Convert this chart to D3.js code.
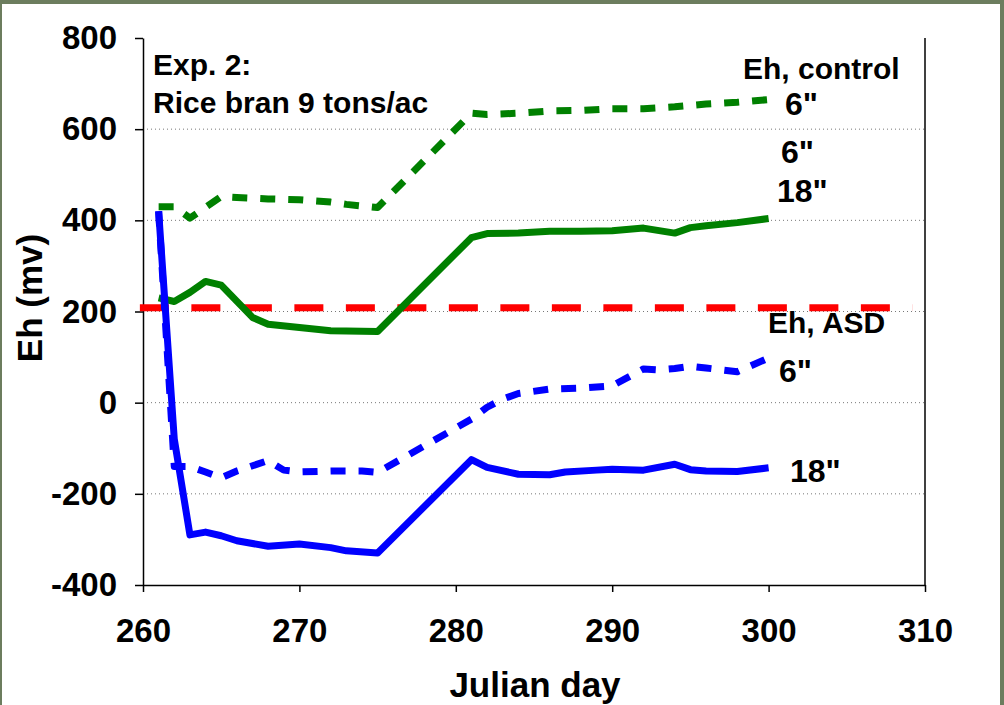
<!DOCTYPE html>
<html>
<head>
<meta charset="utf-8">
<script src="https://cdn.jsdelivr.net/npm/d3@7"></script>
<style>
  body { margin: 0; background: #fff; }
  text { font-family: "Liberation Sans", Arial, sans-serif; font-weight: bold; fill: #000; }
</style>
</head>
<body>
<div id="drawing"></div>
<script>
// Eh readings, Exp. 2 (rice bran 9 tons/ac)

// control, 6" depth (dotted green)
const ctl6Days = [261, 262, 263, 265, 266, 268, 270, 272, 273, 275, 281, 282, 284, 286, 288, 290, 292, 294, 296, 298, 300];
const ctl6Eh   = [430, 430, 405, 452, 450, 447, 445, 440, 435, 428, 635, 632, 635, 640, 641, 645, 645, 649, 655, 659, 665];

// control, 18" depth (solid green)
const ctl18Days = [261, 262, 263, 264, 265, 267, 268, 270, 272, 275, 281, 282, 284, 286, 288, 290, 292, 294, 295, 296, 298, 300];
const ctl18Eh   = [230, 222, 242, 266, 258, 187, 172, 165, 158, 156, 362, 371, 372, 376, 376, 377, 383, 372, 384, 388, 395, 404];

// ASD, 6" depth (dotted blue)
const asd6Days = [261, 262, 263, 264, 265, 266, 268, 269, 270, 272, 274, 275, 281, 282, 283, 284, 286, 288, 290, 292, 293, 294, 295, 296, 298, 300];
const asd6Eh   = [420, -140, -140, -152, -165, -150, -127, -148, -152, -150, -150, -153, -36, -10, 8, 20, 30, 32, 37, 74, 72, 75, 80, 76, 68, 98];

// ASD, 18" depth (solid blue)
const asd18Days = [261, 262, 263, 264, 265, 266, 268, 270, 272, 273, 275, 281, 282, 284, 286, 287, 289, 290, 292, 294, 295, 296, 298, 300];
const asd18Eh   = [420, -80, -290, -284, -292, -303, -315, -310, -318, -325, -330, -125, -142, -157, -158, -152, -148, -146, -148, -135, -147, -150, -151, -143];

// critical Eh reference (red dashed)
const refDays = [259.8, 309.2];
const refEh   = [208, 208];

// axis ticks
const xTicks = [260, 270, 280, 290, 300, 310];
const yTicks = [-400, -200, 0, 200, 400, 600, 800];
const gridTicks = [-200, 0, 200, 400, 600];

// SVG dimensions
const svgWidth = 1004;
const svgHeight = 705;

const svg = d3.select("#drawing")
  .append("svg")
  .attr("width", svgWidth)
  .attr("height", svgHeight);

// olive frame round the slide
const frameColor = "#6c7d5e";
svg.append("rect").attr("x", 0).attr("y", 0).attr("width", svgWidth).attr("height", 4).attr("fill", frameColor);
svg.append("rect").attr("x", 1000).attr("y", 0).attr("width", 4).attr("height", svgHeight).attr("fill", frameColor);
svg.append("rect").attr("x", 0).attr("y", 0).attr("width", 2).attr("height", svgHeight).attr("fill", frameColor);

// Scales
const x = d3.scaleLinear().domain([260, 310]).range([143, 925]);
const y = d3.scaleLinear().domain([-400, 800]).range([585, 38]);

// dotted gridlines
svg.append("g")
  .selectAll("line")
  .data(gridTicks)
  .join("line")
  .attr("x1", x(260))
  .attr("x2", x(310))
  .attr("y1", d => y(d))
  .attr("y2", d => y(d))
  .attr("stroke", "#777")
  .attr("stroke-width", 1)
  .attr("stroke-dasharray", "1,3");

// right border of plot area
svg.append("line")
  .attr("x1", x(310)).attr("x2", x(310))
  .attr("y1", y(800)).attr("y2", y(-400))
  .attr("stroke", "#000")
  .attr("stroke-width", 1.5);

// Axes (plain hyphen for negatives, as in the original)
const plain = d => String(d);

const yAxis = svg.append("g")
  .attr("transform", `translate(${x(260)},0)`)
  .call(d3.axisLeft(y).tickValues(yTicks).tickFormat(plain).tickSize(8).tickSizeOuter(0).tickPadding(18));

const xAxis = svg.append("g")
  .attr("transform", `translate(0,${y(-400)})`)
  .call(d3.axisBottom(x).tickValues(xTicks).tickFormat(plain).tickSize(7).tickSizeOuter(0).tickPadding(27));

[yAxis, xAxis].forEach(g => {
  g.select(".domain").attr("stroke", "#000").attr("stroke-width", 1.5);
  g.selectAll(".tick line").attr("stroke", "#000").attr("stroke-width", 1.5);
  g.selectAll(".tick text")
    .attr("font-family", "Liberation Sans, Arial, sans-serif")
    .attr("font-weight", "bold")
    .attr("font-size", 33)
    .attr("fill", "#000");
});

// Line generator
const lineGen = d3.line()
  .x(d => x(d[0]))
  .y(d => y(d[1]));

const zipPts = (days, vals) => days.map((d, i) => [d, vals[i]]);

const series = [
  { days: refDays,   vals: refEh,   color: "#ff0000", dash: "29,22.5" },
  { days: ctl18Days, vals: ctl18Eh, color: "#008000", dash: null },
  { days: ctl6Days,  vals: ctl6Eh,  color: "#008000", dash: "15,13" },
  { days: asd18Days, vals: asd18Eh, color: "#0000ff", dash: null },
  { days: asd6Days,  vals: asd6Eh,  color: "#0000ff", dash: "15,13" }
];

series.forEach(s => {
  svg.append("path")
    .attr("d", lineGen(zipPts(s.days, s.vals)))
    .attr("fill", "none")
    .attr("stroke", s.color)
    .attr("stroke-width", 7)
    .attr("stroke-linejoin", "round")
    .attr("stroke-dasharray", s.dash);
});

// Text labels
const addText = (txt, tx, ty, size, anchor) => svg.append("text")
  .attr("x", tx)
  .attr("y", ty)
  .attr("font-size", size)
  .attr("text-anchor", anchor || "start")
  .text(txt);

addText("Exp. 2:", 153, 75, 30);
addText("Rice bran 9 tons/ac", 153, 113, 30);

addText("Eh, control", 743, 79, 30);
addText("6\"", 785, 115, 32);
addText("6\"", 781, 163, 32);
addText("18\"", 777, 202, 32);

addText("Eh, ASD", 768, 333, 30);
addText("6\"", 779, 382, 32);
addText("18\"", 790, 482, 32);

// axis titles
addText("Julian day", 535, 697, 35, "middle");

svg.append("text")
  .attr("transform", "translate(42,298) rotate(-90)")
  .attr("font-size", 35)
  .attr("text-anchor", "middle")
  .text("Eh (mv)");
</script>
</body>
</html>
